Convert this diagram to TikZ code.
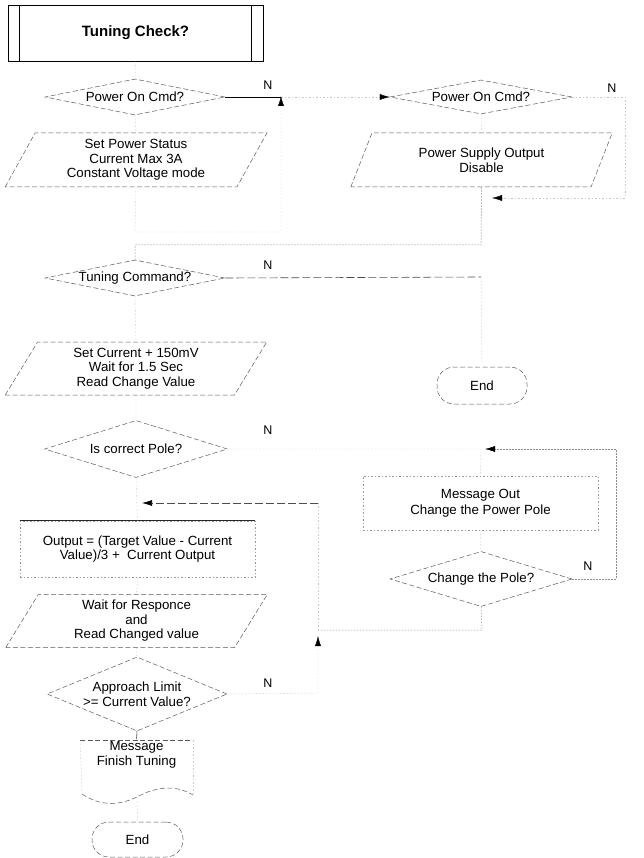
\documentclass[tikz,border=0pt]{standalone}
\usepackage{fontspec}
\setmainfont{Liberation Sans}
\usetikzlibrary{shapes.geometric,arrows.meta}
\begin{document}
\begin{tikzpicture}[x=1pt,y=-1pt,
  every node/.style={font=\fontsize{13.3}{14.5}\selectfont, text=black, inner sep=0pt},
  shp/.style={draw=black!65, line width=0.5pt, dash pattern=on 5pt off 2.5pt},
  dia/.style args={#1x#2}{shape=diamond, shp, minimum width=#1pt, minimum height=#2pt},
  para/.style={shape=trapezium, shp, trapezium left angle=63.4, trapezium right angle=116.6,
     trapezium stretches=true, minimum width=262pt, minimum height=54pt, align=center},
  term/.style={shp, rounded corners=17pt, minimum width=90pt, minimum height=36pt},
  boxn/.style={draw=black!40, line width=0.5pt, dash pattern=on 1.5pt off 2pt,
     minimum width=235pt, align=center},
  faint/.style={draw=black!22, line width=0.4pt, dash pattern=on 1.5pt off 2pt},
  dotc/.style={draw=black!45, line width=0.5pt, dash pattern=on 1.5pt off 1.5pt},
  dashc/.style={draw=black!70, line width=0.6pt, dash pattern=on 8pt off 3pt},
  solidc/.style={draw=black, line width=0.9pt},
  arr/.style={-{Latex[length=10pt,width=6pt,color=black]}},
  lab/.style={font=\fontsize{12.5}{14}\selectfont}
]
\useasboundingbox (0,0) rectangle (644,858);

% ---- left column
\node[draw=black, line width=0.9pt, minimum width=255pt, minimum height=56pt,
      font=\fontsize{15}{17}\selectfont\bfseries] (title) at (135.5,33) {Tuning Check?};
\draw[line width=0.9pt] ([xshift=12pt]title.north west) -- ([xshift=12pt]title.south west);
\draw[line width=0.9pt] ([xshift=-12pt]title.north east) -- ([xshift=-12pt]title.south east);

\node[dia=180x36, label={center:Power On Cmd?}] (d1) at (135,97) {};
\node[para] (p1) at (136,160) {Set Power Status\\Current Max 3A\\Constant Voltage mode};
\node[dia=180x36, label={center:Tuning Command?}] (d3) at (135,278) {};
\node[para, minimum height=53pt] (p3) at (136,368.5) {Set Current + 150mV\\Wait for 1.5 Sec\\Read Change Value};
\node[dia=183x57, label={center:Is correct Pole?}] (d4) at (136,449) {};
\node[boxn, minimum height=56pt] (out) at (137.5,549) {Output = (Target Value - Current\\Value)/3 +~ Current Output};
\draw[draw=black!85, line width=0.7pt] (out.north west) -- (out.north east);
\node[para, minimum height=53pt] (p4) at (136.5,621) {Wait for Responce\\and\\Read Changed value};
\node[dia=180x74, label={[align=center]center:{Approach Limit\\>= Current Value?}}] (d6) at (137,694) {};
\node[align=center, minimum width=113pt, minimum height=30pt] (docn) at (136.5,755) {Message\\Finish Tuning};
\draw[shp] (80,740) -- (193,740);
\draw[faint] (80,740) -- (82,794);
\draw[faint] (193,740) -- (193,795);
\draw[shp] (82,794) .. controls (100,806) and (118,806) .. (137,797)
   .. controls (155,787) and (175,784) .. (193,795);
\coordinate (docb) at (137,798);
\node[term, minimum width=91pt, minimum height=35pt] (end2) at (137.5,839.5) {End};

% ---- right column
\node[dia=182x34, label={center:Power On Cmd?}] (d2) at (481,97) {};
\node[para] (p2) at (481.5,160) {Power Supply Output\\Disable};
\node[term, minimum height=37pt] (end1) at (482,385.5) {End};
\node[boxn, minimum height=54pt] (msg) at (480.5,503) {Message Out\\[2pt]Change the Power Pole};
\node[dia=182x55, label={center:Change the Pole?}] (d5) at (481,579) {};

% ---- N labels
\node[lab] (n1) at (268,85) {N};
\node[lab] (n2) at (612,88) {N};
\node[lab] (n3) at (268,265) {N};
\node[lab] (n4) at (268,430) {N};
\node[lab] (n5) at (588,566) {N};
\node[lab] (n6) at (268,683) {N};

% ---- connectors
\coordinate (ja) at (281,97);
\coordinate (k1) at (135,232);
\coordinate (r1) at (625,97);
\coordinate (r2) at (625,198);
\coordinate (j2) at (492,198);
\coordinate (j3) at (481,245);
\coordinate (j4) at (135,245);
\coordinate (j5) at (481,277);
\coordinate (j6) at (481,449);
\coordinate (r3) at (616,579);
\coordinate (r4) at (616,449);
\coordinate (j7) at (485,449);
\coordinate (r5) at (482,630);
\coordinate (r6) at (318,630);
\coordinate (r7) at (318,503);
\coordinate (j8) at (142,503);
\coordinate (r8) at (318,693);
\coordinate (r9) at (318,636);

\draw[faint] (title.south) -- (d1.north);
\draw[solidc] (d1.east) -- (ja);
\draw[faint, arr] (ja) -- (d2.west);
\draw[faint] (d1.south) -- (p1.north);
\draw[faint, arr] (p1.south) -- (k1) -| ([yshift=1pt]ja);
\draw[faint, arr] (d2.east) -- (r1) -- (r2) -- (j2);
\draw[faint] (d2.south) -- (p2.north);
\draw[dotc] (p2.south) -- (j3) -- (j4) -- (d3.north);
\draw[dashc] (d3.east) -- (j5);
\draw[faint] (j5) -- (end1.north);
\draw[faint] (d3.south) -- (p3.north);
\draw[faint] (p3.south) -- (d4.north);
\draw[faint] (d4.east) -- (j6) -- (msg.north);
\draw[faint] (msg.south) -- (d5.north);
\draw[dotc, arr] (d5.east) -- (r3) -- (r4) -- (j7);
\draw[dotc] (d5.south) -- (r5) -- (r6);
\draw[faint] (r6) -- (r7);
\draw[dashc, arr] (r7) -- (j8);
\draw[faint] (d4.south) -- (out.north);
\draw[faint] (out.south) -- (p4.north);
\draw[faint] (p4.south) -- (d6.north);
\draw[faint, arr] (d6.east) -- (r8) -- (r9);
\draw[dashc] (d6.south) -- (docn.north);
\draw[faint] (docb) -- (end2.north);
\end{tikzpicture}
\end{document}
